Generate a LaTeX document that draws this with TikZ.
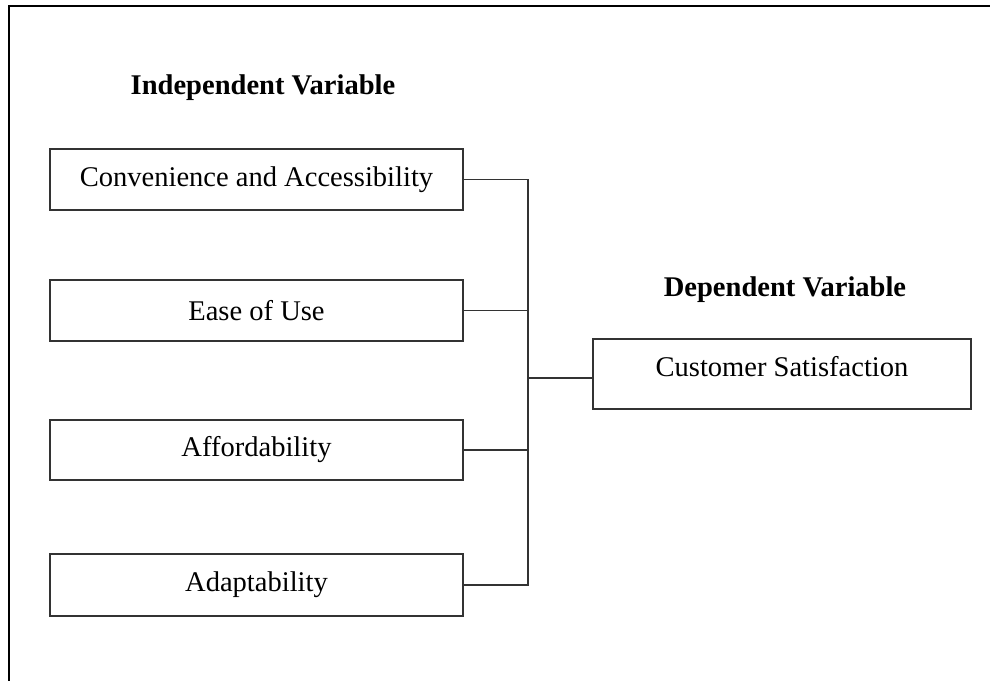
\documentclass[tikz,border=0pt]{standalone}
\usepackage{fontspec}
\setmainfont{Liberation Serif}
\usetikzlibrary{calc}
\begin{document}
\begin{tikzpicture}[x=0.75pt,y=-0.75pt,
  varbox/.style={draw=black!80,line width=0.9pt,fill=white,inner sep=0pt,
    font=\fontsize{21.4}{25}\selectfont},
  heading/.style={inner sep=0pt,font=\fontsize{21.4}{25}\selectfont\bfseries},
  wire/.style={draw=black!80,line width=0.9pt}]
\useasboundingbox (0,0) rectangle (990,681);
% outer frame (left and top edges only)
\draw[line width=1.1pt] (9,681) -- (9,6) -- (990,6);

% headings
\node[heading] (ivh) at (263,88) {Independent Variable};
\node[heading] (dvh) at (785,290) {Dependent Variable};

% independent variables
\node[varbox,minimum width=413*0.75pt,minimum height=61*0.75pt] (b1) at (256.5,179.5) {Convenience and Accessibility};
\node[varbox,minimum width=413*0.75pt,minimum height=61*0.75pt] (b2) at (256.5,310.5) {Ease of Use};
\node[varbox,minimum width=413*0.75pt,minimum height=60*0.75pt] (b3) at (256.5,450) {Affordability};
\node[varbox,minimum width=413*0.75pt,minimum height=62*0.75pt] (b4) at (256.5,585) {Adaptability};

% dependent variable
\node[varbox,minimum width=378*0.75pt,minimum height=70*0.75pt,text depth=10.7pt] (dv) at (782,374) {Customer Satisfaction};

% connecting bus
\coordinate (bus) at (528,180);
\draw[wire] (b1.east) -- (b1.east -| bus) -- (b4.east -| bus) -- (b4.east);
\draw[wire] (b2.east) -- (b2.east -| bus);
\draw[wire] (b3.east) -- (b3.east -| bus);
\draw[wire] ($(dv.west)+(0,4)$) coordinate (dvin) -- (dvin -| bus);
\end{tikzpicture}
\end{document}
